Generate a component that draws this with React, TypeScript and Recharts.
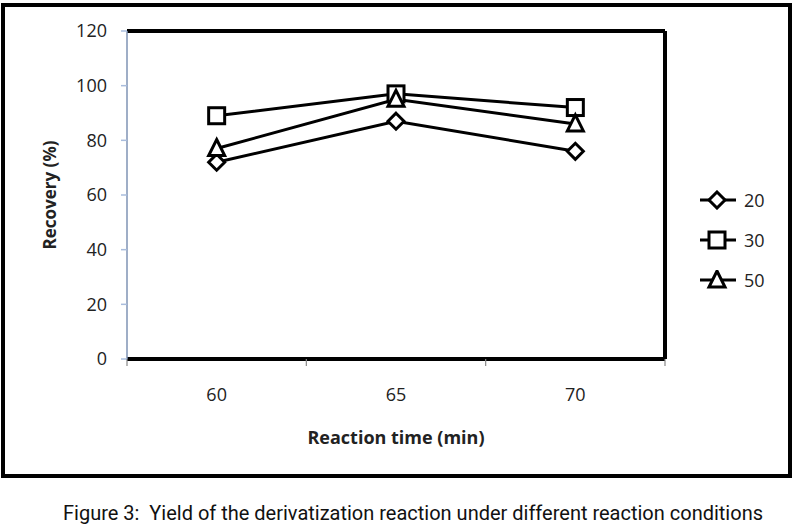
import React from "react";
import {
  LineChart,
  Line,
  XAxis,
  YAxis,
  ReferenceLine,
  Label,
} from "recharts";

// reaction time (min) on the x axis
const times = [60, 65, 70];
// recovery (%) for each condition
const rec20 = [72, 87, 76];
const rec30 = [89, 97, 92];
const rec50 = [77, 95, 86];
const seriesNames = ["20", "30", "50"];
const yTicks = [0, 20, 40, 60, 80, 100, 120];

const data = times.map((t, i) => ({
  time: t,
  s20: rec20[i],
  s30: rec30[i],
  s50: rec50[i],
}));

// category borders sit half a step either side of each time
const step = times[1] - times[0];
const xMin = times[0] - step / 2;
const xMax = times[times.length - 1] + step / 2;
const borders = [...times.map((t) => t - step / 2), xMax];
const xTicks = [...borders, ...times].sort((a, b) => a - b);

const tickFont = "'Open Sans', 'Noto Sans', sans-serif";

type Shape = "diamond" | "square" | "triangle";
const shapes: Shape[] = ["diamond", "square", "triangle"];

function Marker({ cx, cy, shape }: { cx: number; cy: number; shape: Shape }) {
  const props = { fill: "#fff", stroke: "#000", strokeWidth: 3 };
  if (shape === "diamond") {
    return (
      <polygon
        {...props}
        points={`${cx},${cy - 8} ${cx + 8},${cy} ${cx},${cy + 8} ${cx - 8},${cy}`}
      />
    );
  }
  if (shape === "square") {
    return <rect {...props} x={cx - 8} y={cy - 8} width={16} height={16} />;
  }
  return (
    <polygon
      {...props}
      points={`${cx},${cy - 9} ${cx + 8},${cy + 7} ${cx - 8},${cy + 7}`}
    />
  );
}

const dotFor = (shape: Shape) => (p: any) =>
  <Marker key={`${shape}-${p.index}`} cx={p.cx} cy={p.cy} shape={shape} />;

function XTick(props: any) {
  const { x, y, payload } = props;
  if (borders.includes(payload.value)) {
    return <line x1={x} x2={x} y1={y} y2={y + 7} stroke="#888" strokeWidth={1.2} />;
  }
  return (
    <text
      x={x}
      y={y + 42}
      textAnchor="middle"
      fontSize={18}
      fontFamily={tickFont}
      fill="#222"
    >
      {payload.value}
    </text>
  );
}

function LegendBox() {
  return (
    <div style={{ display: "flex", flexDirection: "column", gap: 20 }}>
      {seriesNames.map((n, i) => (
        <div key={n} style={{ display: "flex", alignItems: "center", height: 20 }}>
          <svg width={40} height={20}>
            <line x1={2} x2={38} y1={10} y2={10} stroke="#000" strokeWidth={3} />
            <Marker cx={19} cy={10} shape={shapes[i]} />
          </svg>
          <span
            style={{
              fontFamily: tickFont,
              fontSize: 18,
              color: "#222",
              marginLeft: 6,
            }}
          >
            {n}
          </span>
        </div>
      ))}
    </div>
  );
}

export default function App() {
  return (
    <div
      style={{
        position: "absolute",
        left: 0,
        top: 0,
        width: 795,
        height: 530,
        background: "#fff",
      }}
    >
      <div
        style={{
          position: "absolute",
          left: 1,
          top: 3,
          width: 791,
          height: 475,
          boxSizing: "border-box",
          border: "4px solid #000",
        }}
      />
      <div style={{ position: "absolute", left: 0, top: 0 }}>
        <LineChart
          width={795}
          height={480}
          data={data}
          margin={{ top: 31, right: 130, bottom: 31, left: 67 }}
        >
          <XAxis
            dataKey="time"
            type="number"
            domain={[xMin, xMax]}
            ticks={xTicks}
            interval={0}
            height={90}
            tickSize={0}
            tickMargin={0}
            tickLine={false}
            tick={<XTick />}
            axisLine={{ stroke: "#000", strokeWidth: 4 }}
          >
            <Label
              value="Reaction time (min)"
              position="insideBottom"
              offset={5}
              style={{
                fontFamily: tickFont,
                fontSize: 18,
                fontWeight: 700,
                fill: "#222",
              }}
            />
          </XAxis>
          <YAxis
            domain={[0, 120]}
            ticks={yTicks}
            interval={0}
            width={60}
            tickSize={6}
            tickMargin={14}
            tickLine={{ stroke: "#a9bcdc", strokeWidth: 1.5 }}
            axisLine={{ stroke: "#7f93b5", strokeWidth: 1.5 }}
            tick={{ fontSize: 18, fontFamily: tickFont, fill: "#222" }}
          >
            <Label
              value="Recovery (%)"
              content={(p: any) => {
                const vb = p.viewBox;
                const cx = 49;
                const cy = vb.y + vb.height / 2;
                return (
                  <text
                    x={cx}
                    y={cy}
                    transform={`rotate(-90 ${cx} ${cy})`}
                    textAnchor="middle"
                    dominantBaseline="central"
                    fontFamily={tickFont}
                    fontSize={17}
                    fontWeight={700}
                    fill="#222"
                  >
                    Recovery (%)
                  </text>
                );
              }}
            />
          </YAxis>
          <ReferenceLine y={120} stroke="#000" strokeWidth={4} />
          <ReferenceLine x={xMax} stroke="#000" strokeWidth={4} />
          <Line
            dataKey="s20"
            name={seriesNames[0]}
            stroke="#000"
            strokeWidth={3}
            dot={dotFor("diamond")}
            activeDot={false}
            isAnimationActive={false}
          />
          <Line
            dataKey="s30"
            name={seriesNames[1]}
            stroke="#000"
            strokeWidth={3}
            dot={dotFor("square")}
            activeDot={false}
            isAnimationActive={false}
          />
          <Line
            dataKey="s50"
            name={seriesNames[2]}
            stroke="#000"
            strokeWidth={3}
            dot={dotFor("triangle")}
            activeDot={false}
            isAnimationActive={false}
          />
        </LineChart>
      </div>
      <div style={{ position: "absolute", left: 698, top: 190 }}>
        <LegendBox />
      </div>
      <svg
        width={795}
        height={50}
        style={{ position: "absolute", left: 0, top: 490 }}
      >
        <text
          x={413}
          y={30}
          textAnchor="middle"
          textLength={700}
          lengthAdjust="spacingAndGlyphs"
          fontFamily="Roboto, 'Liberation Sans', sans-serif"
          fontSize={20}
          fill="#111"
          xmlSpace="preserve"
        >
          {"Figure 3:  Yield of the derivatization reaction under different reaction conditions"}
        </text>
      </svg>
    </div>
  );
}
